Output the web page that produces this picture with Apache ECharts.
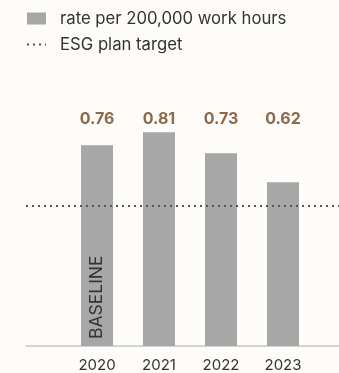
<!DOCTYPE html>
<html>
<head>
<meta charset="utf-8">
<script src="https://cdn.jsdelivr.net/npm/echarts@6/dist/echarts.min.js"></script>
<style>
  html, body { margin: 0; padding: 0; background: #fdfcf9; }
  #chart { width: 339px; height: 373px; }
</style>
</head>
<body>
<div id="chart"></div>
<script>
// Incident rate per 200,000 work hours, by year
const years = ['2020', '2021', '2022', '2023'];
const rates = [0.76, 0.81, 0.73, 0.62];
const targetRate = 0.53;
const baselineYear = '2020';

const barName = 'rate per 200,000 work hours';
const targetName = 'ESG plan target';

const FONT = 'Inter, "Noto Sans", sans-serif';
const TOP = 82, BOTTOM = 27;

const chart = echarts.init(document.getElementById('chart'), null, { renderer: 'canvas' });

chart.setOption({
  backgroundColor: '#fdfcf9',
  animation: false,
  textStyle: { fontFamily: FONT },
  legend: {
    orient: 'vertical',
    left: 21,
    top: 5,
    itemWidth: 19,
    itemHeight: 12,
    itemGap: 9,
    textStyle: { fontFamily: FONT, fontSize: 16.7, color: '#333333', padding: [0, 0, 0, 9] },
    data: [
      { name: barName, icon: 'rect' },
      { name: targetName, itemStyle: { opacity: 0 } }
    ]
  },
  grid: [
    // full-width plotting area: baseline axis and target line
    { left: 26, right: 0, top: TOP, bottom: BOTTOM },
    // category area holding the bars
    { left: 66, right: 25, top: TOP, bottom: BOTTOM }
  ],
  xAxis: [
    {
      gridIndex: 0, type: 'value', min: 0, max: 1,
      axisLine: { show: true, lineStyle: { color: '#c6c6c6', width: 1.5 } },
      axisTick: { show: false }, axisLabel: { show: false }, splitLine: { show: false }
    },
    {
      gridIndex: 1, type: 'category', data: years, position: 'bottom',
      axisLine: { show: false }, axisTick: { show: false },
      axisLabel: { color: '#333333', fontSize: 15, margin: 12, fontFamily: FONT }
    },
    {
      gridIndex: 1, type: 'category', data: rates.map(v => v.toFixed(2)), position: 'top',
      axisLine: { show: false }, axisTick: { show: false },
      axisLabel: { inside: true, margin: 29, color: '#8b6a4f', fontSize: 16, fontWeight: 'bold', fontFamily: FONT }
    }
  ],
  yAxis: [
    { gridIndex: 0, type: 'value', min: 0, max: 1, show: false },
    { gridIndex: 1, type: 'value', min: 0, max: 1, show: false }
  ],
  series: [
    {
      name: barName,
      type: 'bar',
      xAxisIndex: 1,
      yAxisIndex: 1,
      barWidth: 32,
      itemStyle: { color: '#a7a7a7' },
      data: rates.map((v, i) => years[i] === baselineYear ? {
        value: v,
        label: {
          show: true, formatter: 'BASELINE', position: 'insideBottom',
          rotate: 90, align: 'left', verticalAlign: 'middle', distance: 7,
          color: '#333333', fontSize: 17.5, fontFamily: FONT
        }
      } : v)
    },
    {
      name: targetName,
      type: 'line',
      xAxisIndex: 0,
      yAxisIndex: 0,
      z: 5,
      symbol: 'none',
      showSymbol: false,
      silent: true,
      lineStyle: { color: '#555555', width: 2, type: [2, 4] },
      itemStyle: { color: '#555555' },
      data: [[0, targetRate], [1, targetRate]]
    }
  ]
});
</script>
</body>
</html>
